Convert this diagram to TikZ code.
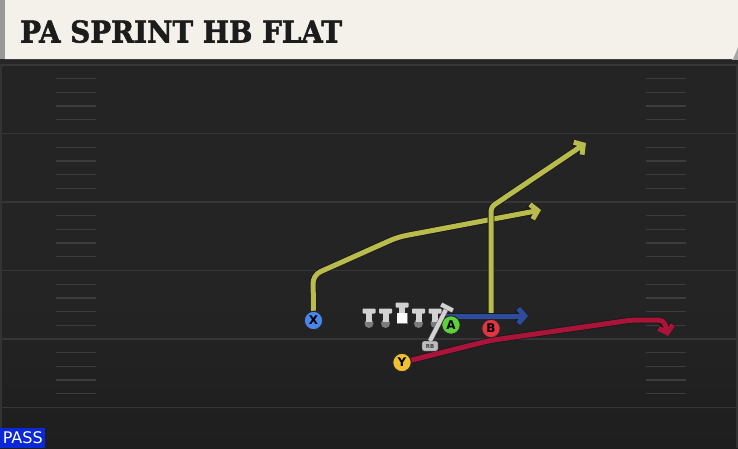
\documentclass[tikz,border=0pt]{standalone}
\usepackage{fontspec}
\setmainfont{DejaVu Sans}
\newfontfamily\titlefont{DejaVu Serif}[FakeBold=1.8]
\usetikzlibrary{arrows.meta,calc}
\definecolor{fieldbg}{HTML}{242424}
\definecolor{fieldbot}{HTML}{1E1E1E}
\definecolor{yardcol}{HTML}{363636}
\definecolor{hashcol}{HTML}{3C3C3C}
\definecolor{titlebg}{HTML}{F4F1EA}
\definecolor{titletext}{HTML}{1C1C1C}
\definecolor{passblue}{HTML}{0A28D8}
\definecolor{routeyellow}{HTML}{B9BB4C}
\definecolor{routeblue}{HTML}{2E4C9E}
\definecolor{routered}{HTML}{AA1438}
\definecolor{xblue}{HTML}{4A86E8}
\definecolor{agreen}{HTML}{5DD13A}
\definecolor{bred}{HTML}{E2353F}
\definecolor{yyellow}{HTML}{F0C030}
\definecolor{linegrey}{HTML}{D2D2D2}
\definecolor{dotgrey}{HTML}{7C7C7C}
\pgfdeclarelayer{back}
\pgfdeclarelayer{routes}
\pgfsetlayers{back,routes,main}
\tikzset{
  yardline/.style={draw=yardcol, line width=1.8pt},
  hashmark/.style={draw=hashcol, line width=1.3pt},
  player/.style={circle, draw=black!85, line width=1pt, minimum size=18.5pt, inner sep=0pt,
    font=\bfseries\fontsize{12}{12}\selectfont, text=black},
  route/.style={line width=5pt, line join=round, preaction={draw=black!90, line width=6.6pt}},
  rtip/.style={-{Straight Barb[length=6.5pt,width=15pt]}},
  lman/.style={fill=linegrey},
}
\begin{document}
\begin{tikzpicture}[x=1pt,y=-1pt]
\useasboundingbox (0,0) rectangle (738,448);
\begin{pgfonlayer}{back}
\fill[fieldbg] (0,0) rectangle (738,448);
\shade[top color=fieldbg, bottom color=fieldbot] (0,300) rectangle (738,448);
\foreach \k in {0,...,5} \draw[yardline] (2,65+68.5*\k) -- (737,65+68.5*\k);
\foreach \k in {0,...,4} \foreach \j in {1,2,3,4} {
  \draw[hashmark] (56,65+68.5*\k+13.7*\j) -- (96,65+68.5*\k+13.7*\j);
  \draw[hashmark] (646,65+68.5*\k+13.7*\j) -- (686,65+68.5*\k+13.7*\j);
}
\draw[draw=black!60!gray, line width=1.5pt] (1,60) -- (1,448);
\draw[draw=black!60!gray, line width=1.5pt] (737,60) -- (737,448);
% title bar
\fill[black!85] (0,58) rectangle (738,64);
\fill[gray!80] (0,0) rectangle (6,59);
\fill[gray!70] (732,46) -- (738,46) -- (738,60) -- (732,60) -- cycle;
\fill[titlebg] (5,0) -- (738,0) -- (738,47) -- (733,59) -- (5,59) -- cycle;
\end{pgfonlayer}

\node[anchor=base west, inner sep=0pt, xscale=0.925, font=\titlefont\bfseries\fontsize{30}{30}\selectfont, text=titletext] (title) at (20,42.5) {PA SPRINT HB FLAT};
\node[fill=passblue, text=white, anchor=south west, minimum width=45pt, minimum height=20pt, inner sep=0pt,
  font=\fontsize{16}{16}\selectfont] (pass) at (0,448) {PASS};

% linemen
\foreach \x in {369,385.5,418.5,435} {
  \fill[dotgrey] (\x,323.5) circle (4.5);
  \fill[lman, rounded corners=0.8pt] (\x-6.5,308.5) rectangle (\x+6.5,313.5);
  \fill[lman] (\x-3,309) rectangle (\x+3,321.5);
}
\fill[lman, rounded corners=0.8pt] (395.5,302.5) rectangle (408.5,307.5);
\fill[lman] (399,303) rectangle (405,313);
\fill[dotgrey] (396.5,312.5) rectangle (407.5,324);
\fill[white] (397,312.5) rectangle (407,322.5);

% players
\node[player, fill=xblue] (X) at (313.5,320.5) {X};
\node[player, fill=agreen] (A) at (451,325) {A};
\node[player, fill=bred] (B) at (491,328.5) {B};
\node[player, fill=yyellow] (Y) at (402,362.5) {Y};
\node[draw=black!80, fill=linegrey!90!black, rounded corners=2pt, minimum width=16pt, minimum height=10pt, inner sep=0pt,
  font=\bfseries\fontsize{5.5}{5.5}\selectfont, text=black!75] (rb) at (430,346) {RB};

% route points
\coordinate (x1) at (313,275);
\coordinate (x2) at (398,237);
\coordinate (xend) at (541,210);
\coordinate (b1) at (491,207);
\coordinate (bend) at (586,143);
\coordinate (aend) at (528,316);
\coordinate (y1) at (490,340.5);
\coordinate (y2) at (632,320);
\coordinate (y3) at (664,320);
\coordinate (yend) at (668,336);
\coordinate (rbend) at (447,307.5);

\begin{pgfonlayer}{routes}
\draw[route, routeyellow, rtip, rounded corners=8pt] (X.north) -- (x1) -- (x2) -- (xend);
\draw[route, routeyellow, rtip, rounded corners=4pt] (B.north) -- (b1) -- (bend);
\draw[route, routeblue, rtip] (A.120 |- aend) -- (aend);
\draw[route, routered, rtip, rounded corners=5pt] (Y) -- (y1) -- (y2) -- (y3) -- (yend);
\end{pgfonlayer}
\draw[linegrey, line width=4pt, preaction={draw=black!60, line width=5pt}] (rb.north) -- (rbend);
\draw[linegrey, line width=4pt, preaction={draw=black!60, line width=5pt}]
  ($(rbend)!6.5pt!90:(rb.north)$) -- ($(rbend)!6.5pt!-90:(rb.north)$);
\end{tikzpicture}
\end{document}
